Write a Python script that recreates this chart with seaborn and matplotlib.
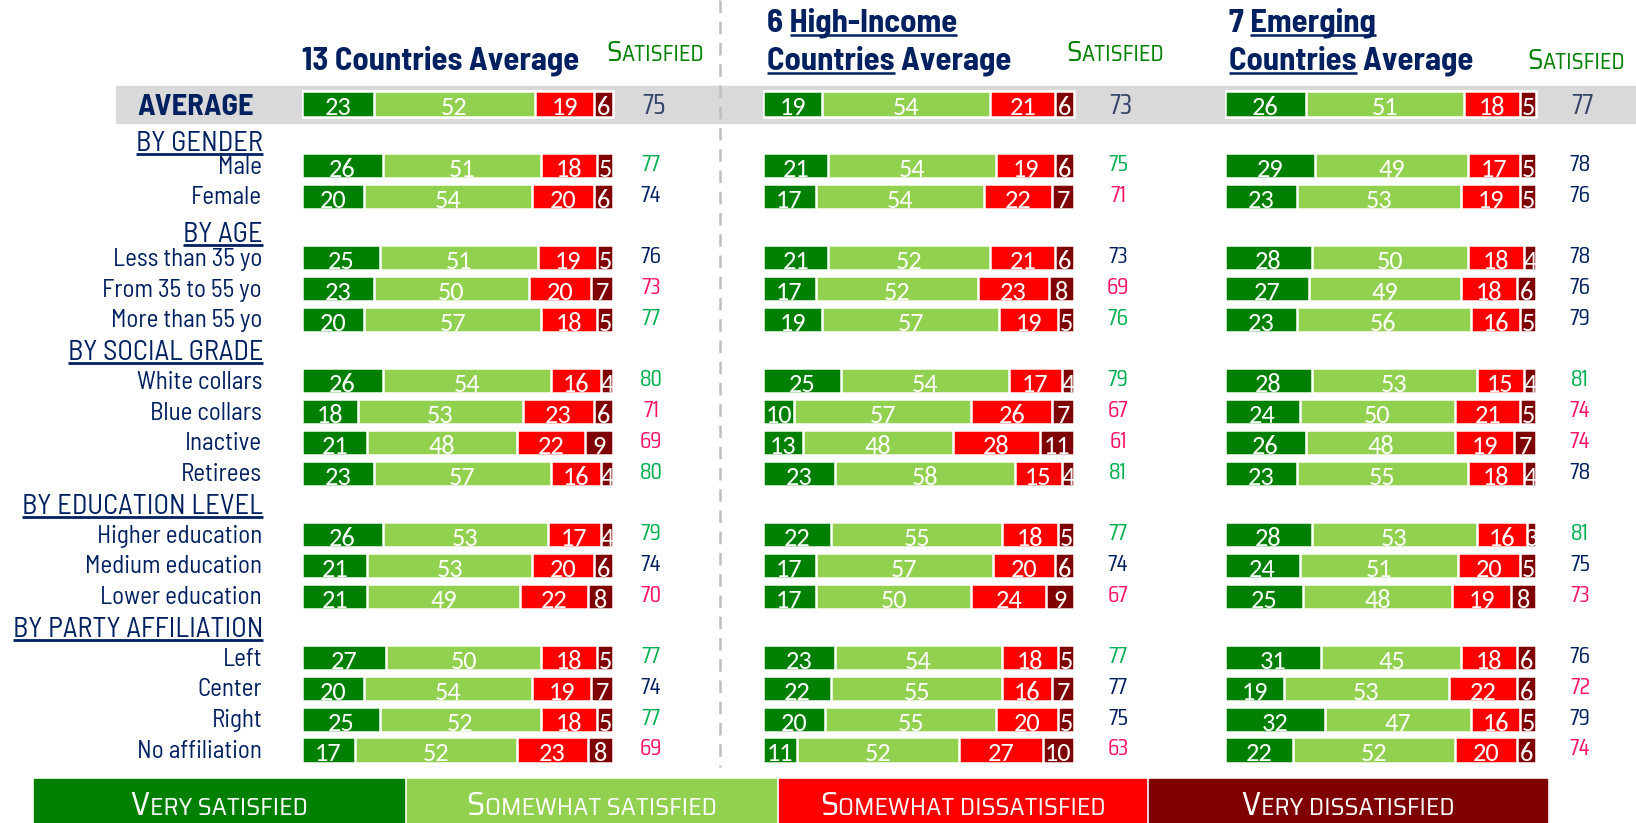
import matplotlib
matplotlib.use("Agg")
import numpy as np
import pandas as pd
import seaborn as sns
import matplotlib.pyplot as plt
from matplotlib.patches import Rectangle
from matplotlib.offsetbox import TextArea, HPacker, AnnotationBbox

# ------------------------------------------------------------------ data
segments = ["Very satisfied", "Somewhat satisfied", "Somewhat dissatisfied", "Very dissatisfied"]
segment_colors = ["#008000", "#92D050", "#FF0000", "#7F0000"]

groups = ["BY GENDER", "BY AGE", "BY SOCIAL GRADE", "BY EDUCATION LEVEL", "BY PARTY AFFILIATION"]
group_rows = [
    ["Male", "Female"],
    ["Less than 35 yo", "From 35 to 55 yo", "More than 55 yo"],
    ["White collars", "Blue collars", "Inactive", "Retirees"],
    ["Higher education", "Medium education", "Lower education"],
    ["Left", "Center", "Right", "No affiliation"],
]
average_label = "AVERAGE"
satisfied_label = "Satisfied"

# first entry of every list is the overall average row
very_13 = [23, 26, 20, 25, 23, 20, 26, 18, 21, 23, 26, 21, 21, 27, 20, 25, 17]
some_13 = [52, 51, 54, 51, 50, 57, 54, 53, 48, 57, 53, 53, 49, 50, 54, 52, 52]
sdis_13 = [19, 18, 20, 19, 20, 18, 16, 23, 22, 16, 17, 20, 22, 18, 19, 18, 23]
vdis_13 = [6, 5, 6, 5, 7, 5, 4, 6, 9, 4, 4, 6, 8, 5, 7, 5, 8]
sat_13 = [75, 77, 74, 76, 73, 77, 80, 71, 69, 80, 79, 74, 70, 77, 74, 77, 69]
tone_13 = ["avg", "up", "mid", "mid", "down", "up", "up", "down", "down", "up",
           "up", "mid", "down", "up", "mid", "up", "down"]

very_hi = [19, 21, 17, 21, 17, 19, 25, 10, 13, 23, 22, 17, 17, 23, 22, 20, 11]
some_hi = [54, 54, 54, 52, 52, 57, 54, 57, 48, 58, 55, 57, 50, 54, 55, 55, 52]
sdis_hi = [21, 19, 22, 21, 23, 19, 17, 26, 28, 15, 18, 20, 24, 18, 16, 20, 27]
vdis_hi = [6, 6, 7, 6, 8, 5, 4, 7, 11, 4, 5, 6, 9, 5, 7, 5, 10]
sat_hi = [73, 75, 71, 73, 69, 76, 79, 67, 61, 81, 77, 74, 67, 77, 77, 75, 63]
tone_hi = ["avg", "up", "down", "mid", "down", "up", "up", "down", "down", "up",
           "up", "mid", "down", "up", "mid", "mid", "down"]

very_em = [26, 29, 23, 28, 27, 23, 28, 24, 26, 23, 28, 24, 25, 31, 19, 32, 22]
some_em = [51, 49, 53, 50, 49, 56, 53, 50, 48, 55, 53, 51, 48, 45, 53, 47, 52]
sdis_em = [18, 17, 19, 18, 18, 16, 15, 21, 19, 18, 16, 20, 19, 18, 22, 16, 20]
vdis_em = [5, 5, 5, 4, 6, 5, 4, 5, 7, 4, 3, 5, 8, 6, 6, 5, 6]
sat_em = [77, 78, 76, 78, 76, 79, 81, 74, 74, 78, 81, 75, 73, 76, 72, 79, 74]
tone_em = ["avg", "mid", "mid", "mid", "mid", "mid", "up", "down", "down", "mid",
           "up", "mid", "down", "mid", "down", "mid", "down"]

# title lines: (text piece, underlined?)
title_13 = [[("13 Countries Average", False)]]
title_hi = [[("6 ", False), ("High-Income", True)], [("Countries", True), (" Average", False)]]
title_em = [[("7 ", False), ("Emerging", True)], [("Countries", True), (" Average", False)]]

panels = [
    dict(values=[very_13, some_13, sdis_13, vdis_13], sat=sat_13, tone=tone_13, title=title_13),
    dict(values=[very_hi, some_hi, sdis_hi, vdis_hi], sat=sat_hi, tone=tone_hi, title=title_hi),
    dict(values=[very_em, some_em, sdis_em, vdis_em], sat=sat_em, tone=tone_em, title=title_em),
]

# ------------------------------------------------------------------ style
sns.set_theme(style="white")
LABEL_FONT = ["Barlow Semi Condensed", "DejaVu Sans"]
NUM_FONT = ["Carlito", "Roboto Condensed", "DejaVu Sans"]
THIN_FONT = ["Saira Condensed", "DejaVu Sans"]
CAPS_FONT = ["Saira SemiCondensed", "DejaVu Sans"]
plt.rcParams["font.family"] = LABEL_FONT

NAVY = "#002060"
TONES = {"up": "#00B050", "mid": NAVY, "down": "#FF1464", "avg": "#34456B"}

W, H = 1636, 823
ROW0_Y = 104.0          # pixel centre of the average row
PITCH = 30.76           # pixel distance between rows
PX_PER_PT = 3.11        # bar length per percentage point
PANEL_X0 = [302, 763, 1225]
SAT_X = [651, 1118, 1580]
SAT_HEAD = [(655, 53), (1115, 53), (1576, 61)]
TITLE_X = [302, 767, 1229]
TITLE_BASE = {1: [69.0], 2: [31.5, 69.0]}
HEADER_DROP = [16.5, 15.0, 10.0, 10.0, 10.0]   # baseline offset of each group header

fig = plt.figure(figsize=(W / 100, H / 100), dpi=100)
fig.patch.set_facecolor("white")
ax_bg = fig.add_axes([0, 0, 1, 1], zorder=0)
ax_bg.set_xlim(0, W)
ax_bg.set_ylim(H, 0)
ax_bg.set_axis_off()
renderer = fig.canvas.get_renderer()


def ypix(r):
    return ROW0_Y + r * PITCH


def text_width(s, **kw):
    t = ax_bg.text(0, 0, s, **kw)
    w = t.get_window_extent(renderer).width
    t.remove()
    return w


def small_caps(ax, s, x, y, big, small, color, family, zorder=6):
    chunks = []
    for ch in s:
        size = big if ch.isupper() else small
        if chunks and chunks[-1][1] == size:
            chunks[-1][0] += ch.upper()
        else:
            chunks.append([ch.upper(), size])
    boxes = [TextArea(c, textprops=dict(color=color, fontsize=sz, family=family))
             for c, sz in chunks]
    pack = HPacker(children=boxes, align="baseline", pad=0, sep=0)
    ab = AnnotationBbox(pack, (x, y), xycoords="data", frameon=False,
                        box_alignment=(0.5, 0.5), pad=0, annotation_clip=False)
    ab.set_zorder(zorder)
    ax.add_artist(ab)


# row layout: average row, then each group header followed by its items
row_pos = [0]
header_pos = []
row_names = []
r = 0
for items in group_rows:
    r += 1
    header_pos.append(r)
    for name in items:
        r += 1
        row_pos.append(r)
        row_names.append(name)

# grey band behind the average row
ax_bg.add_patch(Rectangle((116, 86), W - 116, 37, color="#D9D9D9", zorder=0))

# dashed separator
ax_bg.plot([720, 720], [0, 767], color="#BFBFBF", lw=1.8, dashes=(5, 3.5), zorder=2)

# left-hand labels
ax_bg.text(254, ypix(0) + 11, average_label, ha="right", va="baseline",
           fontsize=22, fontweight="bold", color=NAVY, zorder=3)
HEAD_FS = 20.5
for h, g, drop in zip(header_pos, groups, HEADER_DROP):
    base = ypix(h) + drop
    ax_bg.text(263, base, g, ha="right", va="baseline", fontsize=HEAD_FS, color=NAVY, zorder=3)
    w = text_width(g, fontsize=HEAD_FS)
    ax_bg.plot([263 - w, 263], [base + 2.8, base + 2.8], color=NAVY, lw=2.0,
               solid_capstyle="butt", zorder=3)
for p, name in zip(row_pos[1:], row_names):
    ax_bg.text(262, ypix(p) + 8, name, ha="right", va="baseline", fontsize=18, color=NAVY, zorder=3)

# ------------------------------------------------------------------ panels
y_top = -ROW0_Y / PITCH
y_bot = (H - ROW0_Y) / PITCH
XMAX = 110
BAR_W = 0.82

for pi, panel in enumerate(panels):
    ax = fig.add_axes([PANEL_X0[pi] / W, 0, XMAX * PX_PER_PT / W, 1], zorder=2)
    ax.patch.set_alpha(0)
    vals = np.array(panel["values"])
    cum = np.cumsum(vals, axis=0)
    # stacked bars: draw cumulative totals from the longest down to the shortest
    for k in range(3, -1, -1):
        df = pd.DataFrame({"pos": row_pos, "total": cum[k]})
        sns.barplot(data=df, x="total", y="pos", orient="y", native_scale=True,
                    color=segment_colors[k], saturation=1, edgecolor="white",
                    linewidth=1.8, width=BAR_W, errorbar=None, ax=ax)
    for k in range(4):
        for i, p in enumerate(row_pos):
            v = vals[k][i]
            left = cum[k][i] - v
            t = ax.text(left + v / 2, p + 0.37, str(v), ha="center", va="baseline",
                        color="white", fontsize=19, family=NUM_FONT, zorder=5)
            t.set_clip_path(Rectangle((left, p - BAR_W / 2), v, BAR_W, transform=ax.transData))
    ax.set_xlim(0, XMAX)
    ax.set_ylim(y_bot, y_top)
    ax.set_axis_off()

    # satisfied totals
    for i, p in enumerate(row_pos):
        tone = panel["tone"][i]
        if i == 0:
            ax_bg.text(SAT_X[pi] + 3, ypix(p) + 10, str(panel["sat"][i]), ha="center",
                       va="baseline", fontsize=20, color=TONES[tone], family=THIN_FONT, zorder=3)
        else:
            ax_bg.text(SAT_X[pi], ypix(p) + 5.5, str(panel["sat"][i]), ha="center",
                       va="baseline", fontsize=17, color=TONES[tone], family=THIN_FONT, zorder=3)

    # column header
    small_caps(ax_bg, satisfied_label, SAT_HEAD[pi][0], SAT_HEAD[pi][1], 20.5, 16,
               "#008000", CAPS_FONT)

    # panel title with underlined words
    lines = panel["title"]
    bases = TITLE_BASE[len(lines)]
    tkw = dict(fontsize=23.5, fontweight="bold")
    for line, base in zip(lines, bases):
        full = "".join(s for s, _ in line)
        ax_bg.text(TITLE_X[pi], base, full, ha="left", va="baseline", color=NAVY, zorder=3, **tkw)
        prefix = ""
        for piece, under in line:
            prefix += piece
            if under:
                end = TITLE_X[pi] + text_width(prefix, **tkw)
                start = end - text_width(piece, **tkw)
                ax_bg.plot([start, end], [base + 3.5, base + 3.5], color=NAVY, lw=1.8,
                           solid_capstyle="butt", zorder=3)

# ------------------------------------------------------------------ legend strip
LEG_LEFT = [34, 407, 779, 1149]
LEG_RIGHT = [404, 776, 1146, 1547]
for name, col, x0, x1 in zip(segments, segment_colors, LEG_LEFT, LEG_RIGHT):
    ax_bg.add_patch(Rectangle((x0, 779), x1 - x0, 60, color=col, zorder=1))
    small_caps(ax_bg, name, (x0 + x1) / 2, 806, 24, 18.5, "white", CAPS_FONT)

fig.savefig("out.png", dpi=100, facecolor="white")
